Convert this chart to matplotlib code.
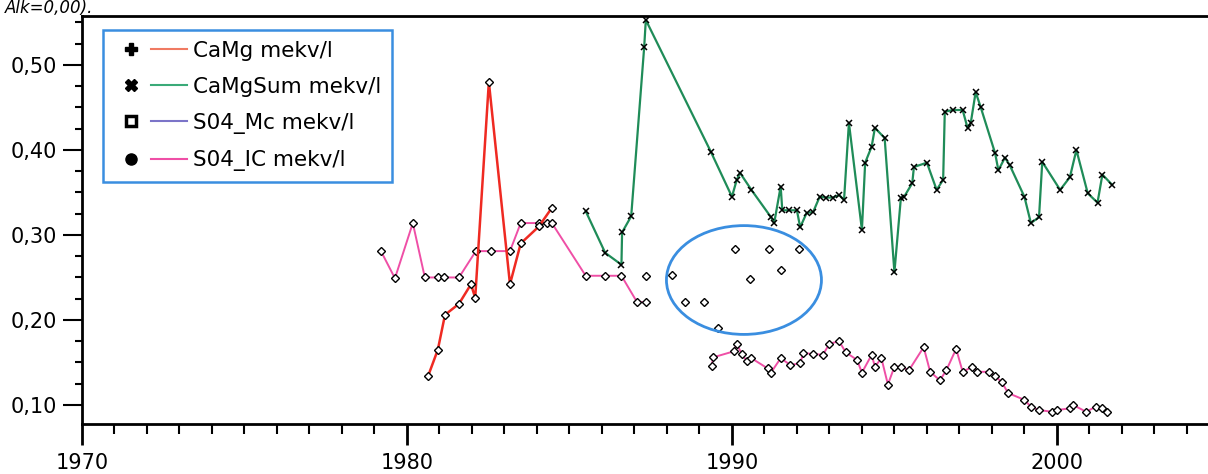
import matplotlib
matplotlib.use("Agg")
import matplotlib.pyplot as plt
import numpy as np
from matplotlib.lines import Line2D
from matplotlib.legend_handler import HandlerTuple
from matplotlib.patches import Ellipse
from matplotlib.ticker import MultipleLocator, FuncFormatter

# ---------------- data ----------------
camg_years = [1980.65, 1980.95, 1981.17, 1981.6, 1981.97, 1982.1, 1982.52,
              1983.17, 1983.5, 1984.06, 1984.46]
camg_vals = [0.134, 0.165, 0.206, 0.219, 0.242, 0.226, 0.480,
             0.242, 0.290, 0.310, 0.332]

camgsum_years = [1985.5, 1986.1, 1986.6, 1986.62, 1986.9, 1987.3, 1987.35,
                 1989.35, 1990.0, 1990.15, 1990.25, 1990.6, 1991.2, 1991.3,
                 1991.5, 1991.55, 1991.75, 1992.0, 1992.1, 1992.3, 1992.5,
                 1992.7, 1992.9, 1993.1, 1993.3, 1993.45, 1993.6, 1994.0,
                 1994.1, 1994.3, 1994.4, 1994.7, 1995.0, 1995.2, 1995.3,
                 1995.55, 1995.6, 1996.0, 1996.3, 1996.5, 1996.55, 1996.8,
                 1997.1, 1997.25, 1997.35, 1997.5, 1997.65, 1998.1, 1998.2,
                 1998.4, 1998.55, 1999.0, 1999.2, 1999.45, 1999.55, 2000.1,
                 2000.4, 2000.6, 2000.95, 2001.25, 2001.4, 2001.7]
camgsum_vals = [0.328, 0.279, 0.265, 0.303, 0.322, 0.521, 0.553,
                0.398, 0.345, 0.365, 0.373, 0.353, 0.321, 0.314,
                0.357, 0.329, 0.329, 0.329, 0.309, 0.326, 0.327,
                0.345, 0.344, 0.344, 0.347, 0.341, 0.432, 0.306,
                0.385, 0.404, 0.426, 0.414, 0.256, 0.344, 0.345,
                0.361, 0.380, 0.385, 0.353, 0.365, 0.445, 0.447,
                0.447, 0.426, 0.432, 0.468, 0.451, 0.396, 0.376,
                0.391, 0.382, 0.345, 0.314, 0.321, 0.386, 0.353,
                0.368, 0.400, 0.349, 0.338, 0.371, 0.359]

# SO4_IC connected segments (NaN = gap)
so4ic_years = [1979.2, 1979.63, 1980.18, 1980.55, 1980.95, 1981.14, 1981.6,
               1982.12, 1982.58, 1983.17, 1983.5, 1984.06, 1984.3, 1984.46,
               1985.5, 1986.1, 1986.6, 1987.08, 1987.35,
               np.nan,
               1989.38, 1989.42, 1990.05, 1990.15, 1990.3, 1990.45, 1990.6,
               1991.1, 1991.2, 1991.5, 1991.8, 1992.1, 1992.2, 1992.5,
               1992.8, 1993.0, 1993.3, 1993.5, 1993.85, 1994.0, 1994.3,
               1994.4, 1994.6, 1994.8, 1995.0, 1995.2, 1995.45, 1995.9,
               1996.1, 1996.4, 1996.6, 1996.9, 1997.1, 1997.4, 1997.55,
               1997.9, 1998.1, 1998.3, 1998.5, 1999.0, 1999.2, 1999.45,
               1999.85, 2000.0, 2000.4, 2000.5, 2000.9, 2001.2, 2001.4,
               2001.55]
so4ic_vals = [0.281, 0.249, 0.314, 0.250, 0.250, 0.250, 0.250,
              0.281, 0.281, 0.281, 0.314, 0.314, 0.314, 0.314,
              0.252, 0.252, 0.252, 0.221, 0.221,
              np.nan,
              0.146, 0.156, 0.163, 0.172, 0.160, 0.152, 0.155,
              0.143, 0.138, 0.155, 0.147, 0.149, 0.161, 0.160,
              0.159, 0.172, 0.175, 0.162, 0.153, 0.138, 0.159,
              0.145, 0.155, 0.124, 0.145, 0.145, 0.141, 0.168,
              0.139, 0.129, 0.141, 0.166, 0.139, 0.145, 0.139,
              0.139, 0.134, 0.127, 0.114, 0.106, 0.098, 0.094,
              0.092, 0.094, 0.096, 0.100, 0.092, 0.098, 0.096,
              0.092]

# SO4_IC isolated samples (no connecting line)
so4ic_pt_years = [1987.35, 1988.15, 1988.55, 1989.14, 1989.57, 1990.1,
                  1990.55, 1991.14, 1991.5, 1992.06]
so4ic_pt_vals = [0.252, 0.253, 0.221, 0.221, 0.190, 0.283,
                 0.248, 0.283, 0.259, 0.283]

so4mc_years = []
so4mc_vals = []

series_labels = ["CaMg mekv/l", "CaMgSum mekv/l", "S04_Mc mekv/l", "S04_IC mekv/l"]
y_ticks = [0.10, 0.20, 0.30, 0.40, 0.50]
x_ticks = [1970, 1980, 1990, 2000]
title_text = "Alk=0,00)."

# ---------------- style ----------------
c_camg = "#ef2a22"
c_sum = "#1f8c58"
c_mc = "#7b74c8"
c_ic = "#ef4fa6"
c_blue = "#3a8ee0"

fig = plt.figure(figsize=(12.08, 4.74), dpi=100)
ax = fig.add_axes([82 / 1208, 1 - 424 / 474, 1 - 82 / 1208, (424 - 16) / 474])

mk = dict(markersize=4, markerfacecolor="white", markeredgecolor="black",
          markeredgewidth=1.0)

ax.plot(so4ic_years, so4ic_vals, color=c_ic, lw=1.4, marker="D", zorder=3, **mk)
ax.plot(so4ic_pt_years, so4ic_pt_vals, linestyle="none", marker="D", zorder=3, **mk)
ax.plot(camg_years, camg_vals, color=c_camg, lw=1.8, marker="D", zorder=4, **mk)
ax.plot(camgsum_years, camgsum_vals, color=c_sum, lw=1.6, marker="x",
        markersize=4.5, markeredgecolor="black", markeredgewidth=1.1, zorder=4)
ax.plot(so4mc_years, so4mc_vals, color=c_mc, lw=1.4)

ax.add_patch(Ellipse((1990.37, 0.247), 4.77, 0.128, fill=False,
                     edgecolor=c_blue, lw=2.0, zorder=5))

ax.set_xlim(1970, 2004.65)
ax.set_ylim(0.0776, 0.5576)

ax.xaxis.set_major_locator(plt.FixedLocator(x_ticks))
ax.xaxis.set_minor_locator(MultipleLocator(1))
ax.yaxis.set_major_locator(plt.FixedLocator(y_ticks))
ax.yaxis.set_minor_locator(MultipleLocator(0.025))
ax.yaxis.set_major_formatter(FuncFormatter(lambda v, p: f"{v:.2f}".replace(".", ",")))

ax.tick_params(axis="x", which="major", direction="out", length=15, width=2,
               labelsize=15, pad=6)
ax.tick_params(axis="x", which="minor", direction="out", length=7, width=1.5)
ax.tick_params(axis="y", which="major", direction="out", length=14, width=1.5,
               labelsize=15, pad=4)
ax.tick_params(axis="y", which="minor", direction="out", length=5, width=1.5)

for s in ["left", "bottom", "top"]:
    ax.spines[s].set_linewidth(2)
    ax.spines[s].set_color("black")
ax.spines["right"].set_visible(False)

# legend
mk_handles = [
    Line2D([], [], linestyle="none", marker="P", markersize=8, color="black"),
    Line2D([], [], linestyle="none", marker="X", markersize=8, color="black"),
    Line2D([], [], linestyle="none", marker="s", markersize=7, markerfacecolor="white",
           markeredgecolor="black", markeredgewidth=2.5),
    Line2D([], [], linestyle="none", marker="o", markersize=8, color="black"),
]
ln_handles = [
    Line2D([], [], color="#f07a62", lw=1.5),
    Line2D([], [], color="#3aaa78", lw=1.5),
    Line2D([], [], color=c_mc, lw=1.5),
    Line2D([], [], color=c_ic, lw=1.5),
]
handles = list(zip(mk_handles, ln_handles))
leg = ax.legend(handles, series_labels, loc="upper left",
                bbox_to_anchor=(0.0185, 0.966), borderaxespad=0,
                handler_map={tuple: HandlerTuple(ndivide=None, pad=0.1)},
                handlelength=3.4, handletextpad=0.3, labelspacing=0.75,
                borderpad=0.5, fontsize=15.5, fancybox=False, framealpha=1)
leg.get_frame().set_edgecolor(c_blue)
leg.get_frame().set_linewidth(1.8)

fig.text(5 / 1208, 1 - 13 / 474, title_text, fontsize=12, style="italic",
         va="baseline", ha="left")

fig.savefig("out.png", dpi=100)
